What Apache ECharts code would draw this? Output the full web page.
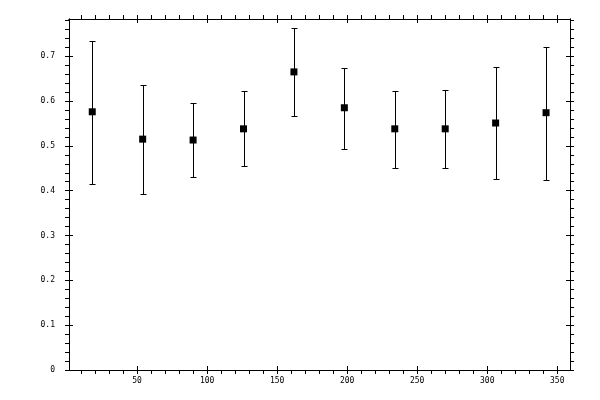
<!DOCTYPE html>
<html>
<head>
<meta charset="utf-8">
<script src="https://cdn.jsdelivr.net/npm/echarts@6/dist/echarts.min.js"></script>
<style>html,body{margin:0;padding:0;background:#fff;}#c{width:600px;height:400px;}</style>
</head>
<body>
<div id="c"></div>
<script>
var xValues = [18, 54, 90, 126, 162, 198, 234, 270, 306, 342];
var yValues = [0.576, 0.515, 0.513, 0.538, 0.665, 0.585, 0.538, 0.538, 0.551, 0.574];
var yLow    = [0.415, 0.392, 0.430, 0.455, 0.567, 0.493, 0.451, 0.451, 0.426, 0.424];
var yHigh   = [0.734, 0.636, 0.595, 0.622, 0.763, 0.674, 0.622, 0.625, 0.676, 0.720];
var xMajorTicks = [50, 100, 150, 200, 250, 300, 350];
var xMinorTicks = [10,20,30,40,50,60,70,80,90,100,110,120,130,140,150,160,170,180,190,200,210,220,230,240,250,260,270,280,290,300,310,320,330,340,350];
var yMajorTicks = [0, 0.1, 0.2, 0.3, 0.4, 0.5, 0.6, 0.7];
var yMinorTicks = [0,0.02,0.04,0.06,0.08,0.1,0.12,0.14,0.16,0.18,0.2,0.22,0.24,0.26,0.28,0.3,0.32,0.34,0.36,0.38,0.4,0.42,0.44,0.46,0.48,0.5,0.52,0.54,0.56,0.58,0.6,0.62,0.64,0.66,0.68,0.7,0.72,0.74,0.76,0.78];
var xMin = 1.4, xMax = 359.1, yMin = 0, yMax = 0.783;

var pts = xValues.map(function (x, i) { return [x, yValues[i]]; });
var bars = xValues.map(function (x, i) { return [x, yLow[i], yHigh[i]]; });

var font = { fontFamily: 'DejaVu Sans Mono', fontSize: 8, color: '#000' };
var lineStyle = { color: '#000', width: 1 };

function xAx(pos, inside, ticks, labels) {
  return {
    type: 'value', position: pos, min: xMin, max: xMax,
    axisLine: { show: true, onZero: false, lineStyle: lineStyle },
    axisTick: { show: true, inside: inside, length: 4, customValues: ticks, lineStyle: lineStyle },
    axisLabel: labels ? Object.assign({ show: true, customValues: labels, margin: 7 }, font) : { show: false },
    splitLine: { show: false }
  };
}
function yAx(pos, inside, ticks, labels) {
  return {
    type: 'value', position: pos, min: yMin, max: yMax,
    axisLine: { show: true, onZero: false, lineStyle: lineStyle },
    axisTick: { show: true, inside: inside, length: 4, customValues: ticks, lineStyle: lineStyle },
    axisLabel: labels ? Object.assign({ show: true, customValues: labels, margin: 14,
      formatter: function (v) { return v === 0 ? '0' : v.toFixed(1); } }, font) : { show: false },
    splitLine: { show: false }
  };
}

var chart = echarts.init(document.getElementById('c'), null, { renderer: 'canvas' });
chart.setOption({
  animation: false,
  backgroundColor: '#fff',
  grid: { left: 69, right: 30, top: 19, bottom: 30, containLabel: false },
  xAxis: [
    xAx('bottom', false, xMinorTicks, xMajorTicks),
    xAx('bottom', true, xMajorTicks, null),
    xAx('top', false, xMinorTicks, null),
    xAx('top', true, xMajorTicks, null)
  ],
  yAxis: [
    yAx('left', false, yMinorTicks, yMajorTicks),
    yAx('left', true, yMajorTicks, null),
    yAx('right', false, yMinorTicks, null),
    yAx('right', true, yMajorTicks, null)
  ],
  series: [
    {
      type: 'custom',
      xAxisIndex: 0, yAxisIndex: 0,
      data: bars,
      renderItem: function (params, api) {
        var x = api.value(0);
        var lo = api.coord([x, api.value(1)]);
        var hi = api.coord([x, api.value(2)]);
        var cx = Math.round(lo[0]) + 0.5;
        var ly = Math.round(lo[1]) + 0.5;
        var hy = Math.round(hi[1]) + 0.5;
        var w = 3;
        var st = { stroke: '#000', lineWidth: 1 };
        return {
          type: 'group',
          children: [
            { type: 'line', shape: { x1: cx, y1: ly, x2: cx, y2: hy }, style: st },
            { type: 'line', shape: { x1: cx - w, y1: ly, x2: cx + w, y2: ly }, style: st },
            { type: 'line', shape: { x1: cx - w, y1: hy, x2: cx + w, y2: hy }, style: st }
          ]
        };
      },
      z: 2
    },
    {
      type: 'scatter',
      xAxisIndex: 0, yAxisIndex: 0,
      data: pts,
      symbol: 'rect',
      symbolSize: 7,
      itemStyle: { color: '#000', opacity: 1 },
      emphasis: { disabled: true },
      z: 3
    }
  ]
});
</script>
</body>
</html>
